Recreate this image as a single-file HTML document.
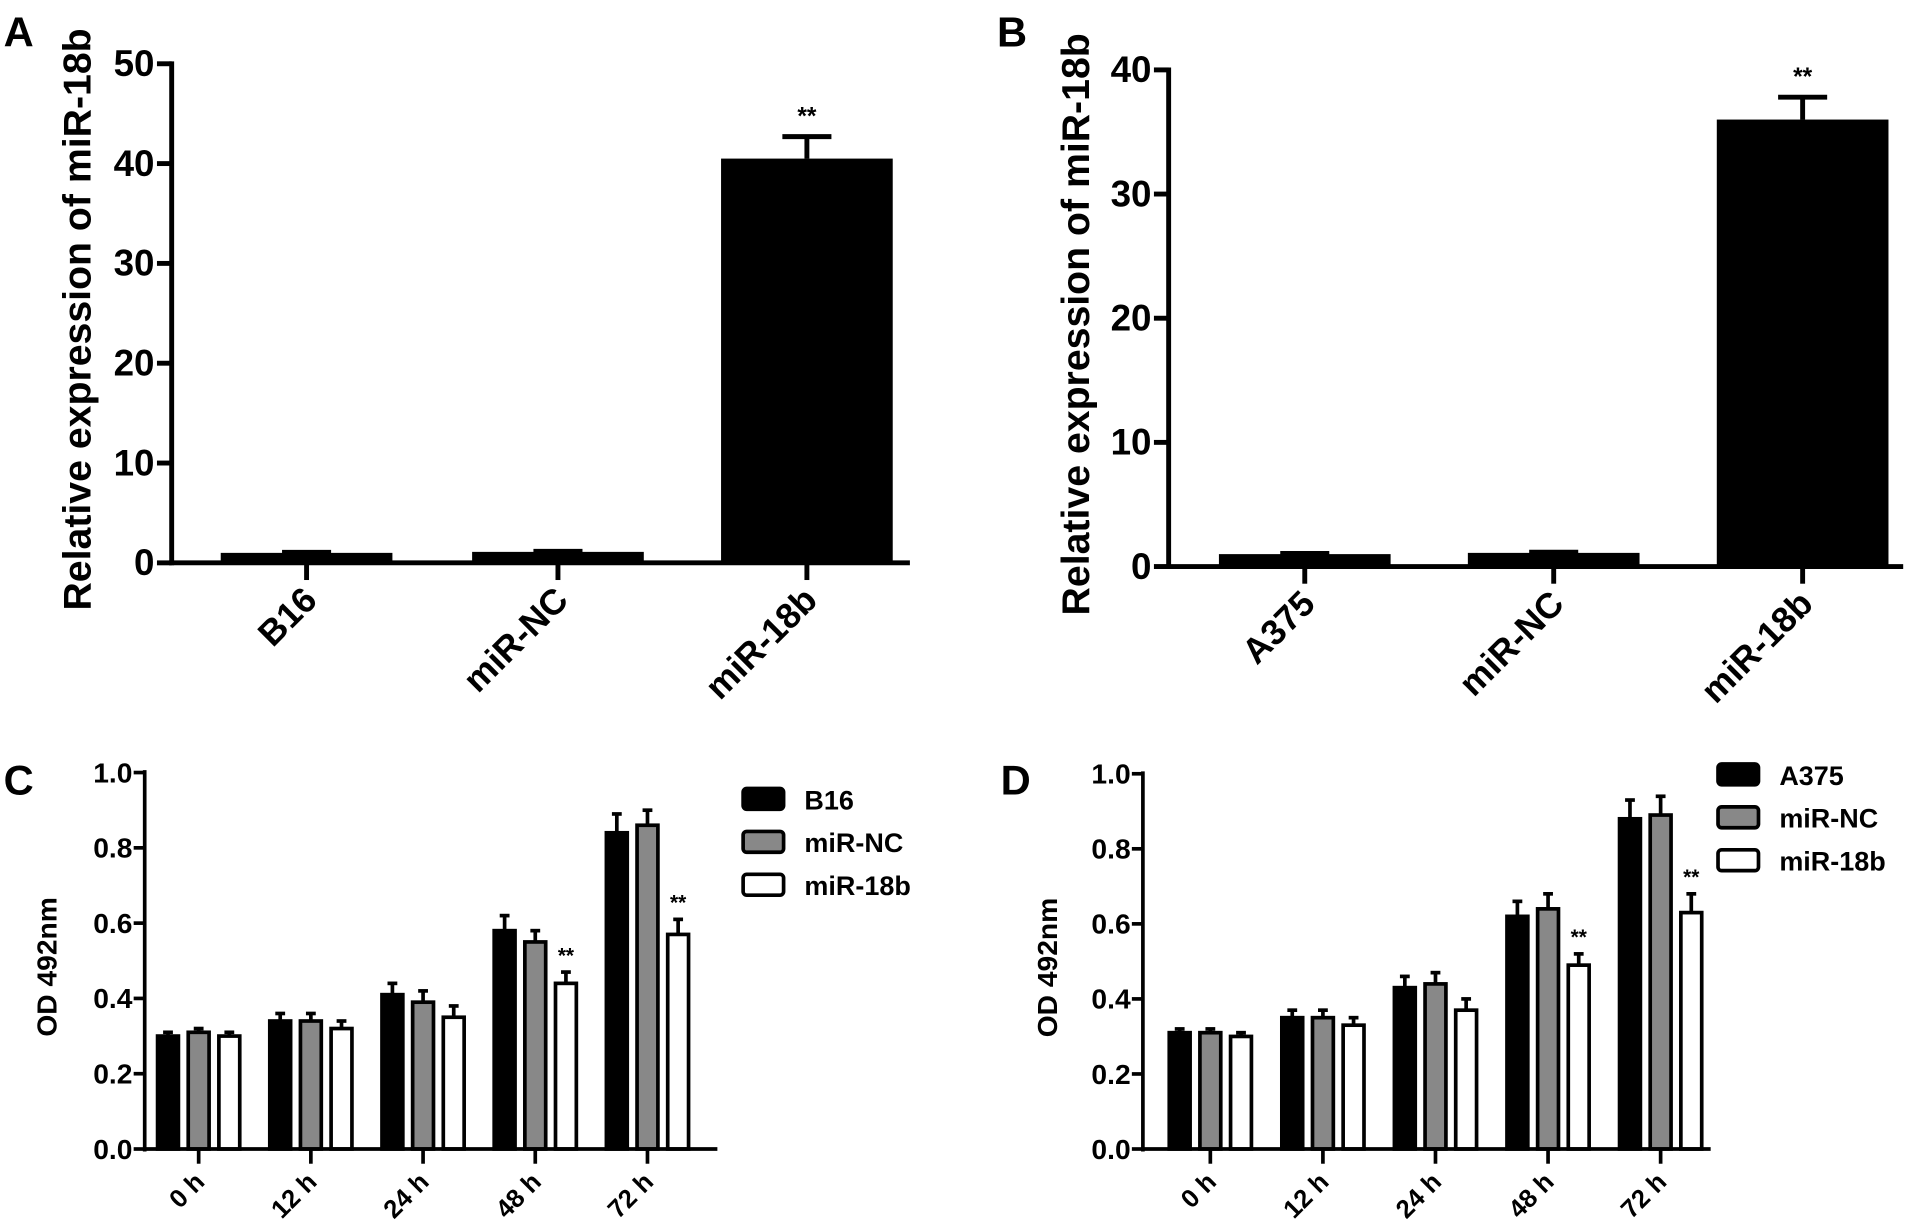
<!DOCTYPE html>
<html><head><meta charset="utf-8"><style>
html,body{margin:0;padding:0;background:#fff;}
svg{display:block;}
text{font-family:"Liberation Sans",sans-serif;font-weight:bold;fill:#000;}
.tick{font-family:"Liberation Sans Narrow","Liberation Sans",sans-serif;}
</style></head><body>
<svg id="fig" width="1913" height="1227" viewBox="0 0 1560 1000.6" preserveAspectRatio="none" xmlns="http://www.w3.org/2000/svg"></svg>
<script>
// Panel A data
const catsA = ["B16","miR-NC","miR-18b"];
const valsA = [1.0, 1.1, 40.5];
const errA = [0.05, 0.05, 2.2];
const ticksA = [0,10,20,30,40,50];
// Panel B data
const catsB = ["A375","miR-NC","miR-18b"];
const valsB = [1.0, 1.1, 36.0];
const errB = [0.05, 0.05, 1.8];
const ticksB = [0,10,20,30,40];
// Panel C data
const timeCats = ["0 h","12 h","24 h","48 h","72 h"];
const odTicks = [0.0,0.2,0.4,0.6,0.8,1.0];
const cB16 = [0.30,0.34,0.41,0.58,0.84];
const cB16Err = [0.01,0.02,0.03,0.04,0.05];
const cNC = [0.31,0.34,0.39,0.55,0.86];
const cNCErr = [0.01,0.02,0.03,0.03,0.04];
const c18b = [0.30,0.32,0.35,0.44,0.57];
const c18bErr = [0.01,0.02,0.03,0.03,0.04];
// Panel D data
const dA375 = [0.31,0.35,0.43,0.62,0.88];
const dA375Err = [0.01,0.02,0.03,0.04,0.05];
const dNC = [0.31,0.35,0.44,0.64,0.89];
const dNCErr = [0.01,0.02,0.03,0.04,0.05];
const d18b = [0.30,0.33,0.37,0.49,0.63];
const d18bErr = [0.01,0.02,0.03,0.03,0.05];

const NS="http://www.w3.org/2000/svg";
const svg=document.getElementById('fig');
function mk(tag,attrs,parent,txt){const e=document.createElementNS(NS,tag);for(const k in attrs)e.setAttribute(k,attrs[k]);if(txt!==undefined)e.textContent=txt;(parent||svg).appendChild(e);return e;}

function panelSimple(p){
  const g=mk('g',{});
  
  
  const y=v=>p.y0+(p.y1-p.y0)*(v/p.max);
  const L=mk('text',{x:p.lx,y:p.ly,'font-size':34},g,p.letter);
  
  const ax=mk('line',{x1:p.ax,y1:p.y1-2,x2:p.ax,y2:p.y0+2,stroke:'#000','stroke-width':4},g);
  
  const xx=mk('line',{x1:p.ax-2,y1:p.y0,x2:p.xend,y2:p.y0,stroke:'#000','stroke-width':4},g);
  
  p.ticks.forEach(t=>{
    mk('line',{x1:p.ax-12,y1:y(t),x2:p.ax,y2:y(t),stroke:'#000','stroke-width':4},g);
    const tl=mk('text',{class:'tick',x:p.ax-14,y:y(t)+10,'font-size':30,'text-anchor':'end'},g,String(t));
    
  });
  const yl=mk('text',{x:0,y:0,'font-size':32,'text-anchor':'middle',transform:`translate(${p.ylx},${(p.y0+p.y1)/2+5}) rotate(-90)`},g,'Relative expression of miR-18b');
  
  p.cats.forEach((c,i)=>{
    const cx=p.cx[i];
    const top=y(p.vals[i]);
    const r=mk('rect',{x:cx-p.bw/2,y:top,width:p.bw,height:p.y0-top,fill:'#000'},g);
    
    const et=y(p.vals[i]+p.err[i]);
    mk('line',{x1:cx,y1:top,x2:cx,y2:et,stroke:'#000','stroke-width':4},g);
    mk('line',{x1:cx-20,y1:et,x2:cx+20,y2:et,stroke:'#000','stroke-width':4},g);
    mk('line',{x1:cx,y1:p.y0,x2:cx,y2:p.y0+14,stroke:'#000','stroke-width':4},g);
    const t=mk('text',{x:0,y:0,'font-size':29,'text-anchor':'end',transform:`translate(${cx+10},${p.y0+32}) rotate(-45)`},g,c);
    
    if(p.sig[i]){const s=mk('text',{x:cx,y:et-10,'font-size':20,'text-anchor':'middle'},g,'**');
      }
  });
}
panelSimple({name:'panel-a',letter:'A',lx:3,ly:38,ax:140,y0:459,y1:52,max:50,xend:742,ticks:ticksA,cats:catsA,vals:valsA,err:errA,cx:[250,455,658],bw:140,ylx:74,sig:[0,0,1]});
panelSimple({name:'panel-b',letter:'B',lx:813,ly:38,ax:953,y0:462,y1:57,max:40,xend:1552,ticks:ticksB,cats:catsB,vals:valsB,err:errB,cx:[1064,1267,1470],bw:140,ylx:888,sig:[0,0,1]});

function panelGrouped(p){
  const g=mk('g',{});
  
  
  const y=v=>p.y0+(p.y1-p.y0)*v;
  const L=mk('text',{x:p.lx,y:p.ly,'font-size':34},g,p.letter);
  
  const fills=['#000','#888','#fff'];
  const series=p.series;
  timeCats.forEach((c,i)=>{
    const g0=p.gx0+i*p.gstep;
    series.forEach((s,j)=>{
      const x=g0+j*25;
      const top=y(s.vals[i]);
      const r=mk('rect',{x:x+1.5,y:top,width:17,height:p.y0-top,fill:fills[j],stroke:'#000','stroke-width':3},g);
      
      const et=y(s.vals[i]+s.err[i]);
      const cx=x+10;
      mk('line',{x1:cx,y1:top,x2:cx,y2:et,stroke:'#000','stroke-width':3},g);
      mk('line',{x1:cx-4,y1:et,x2:cx+4,y2:et,stroke:'#000','stroke-width':3},g);
      if(j===2&&i>=3){const st=mk('text',{x:cx,y:et-8,'font-size':17,'text-anchor':'middle'},g,'**');
        }
    });
    const tc=g0+35;
    mk('line',{x1:tc,y1:p.y0,x2:tc,y2:p.y0+12,stroke:'#000','stroke-width':3},g);
    const t=mk('text',{x:0,y:0,'font-size':21,'text-anchor':'end',transform:`translate(${tc+6},${p.y0+28}) rotate(-45)`},g,c);
    
  });
  const ax=mk('line',{x1:p.ax,y1:p.y1-2,x2:p.ax,y2:p.y0+2,stroke:'#000','stroke-width':3},g);
  
  const xx=mk('line',{x1:p.ax-1,y1:p.y0,x2:p.xend,y2:p.y0,stroke:'#000','stroke-width':3},g);
  
  odTicks.forEach(t=>{
    mk('line',{x1:p.ax-9,y1:y(t),x2:p.ax,y2:y(t),stroke:'#000','stroke-width':3},g);
    const tl=mk('text',{class:'tick',x:p.ax-10,y:y(t)+8,'font-size':23,'text-anchor':'end'},g,t.toFixed(1));
    
  });
  const yl=mk('text',{x:0,y:0,'font-size':23,'text-anchor':'middle',transform:`translate(${p.ylx},${(p.y0+p.y1)/2+5}) rotate(-90)`},g,'OD 492nm');
  
  series.forEach((s,j)=>{
    const ly=p.legY+j*35;
    const b=mk('rect',{x:p.legX,y:ly,width:33,height:17,rx:3,fill:fills[j],stroke:'#000','stroke-width':3},g);
    
    const lt=mk('text',{x:p.legX+50,y:ly+17,'font-size':22},g,s.label);
    
  });
}
panelGrouped({name:'panel-c',letter:'C',lx:3,ly:648,ax:118,y0:937,y1:630,xend:585,gx0:127,gstep:91.5,ylx:46,legX:606,legY:643,
  series:[{key:'b16',label:'B16',vals:cB16,err:cB16Err},{key:'mir-nc',label:'miR-NC',vals:cNC,err:cNCErr},{key:'mir-18b',label:'miR-18b',vals:c18b,err:c18bErr}]});
panelGrouped({name:'panel-d',letter:'D',lx:816,ly:648,ax:932,y0:937,y1:631,xend:1395,gx0:952,gstep:91.8,ylx:862,legX:1401,legY:623,
  series:[{key:'a375',label:'A375',vals:dA375,err:dA375Err},{key:'mir-nc',label:'miR-NC',vals:dNC,err:dNCErr},{key:'mir-18b',label:'miR-18b',vals:d18b,err:d18bErr}]});
</script>
</body></html>
